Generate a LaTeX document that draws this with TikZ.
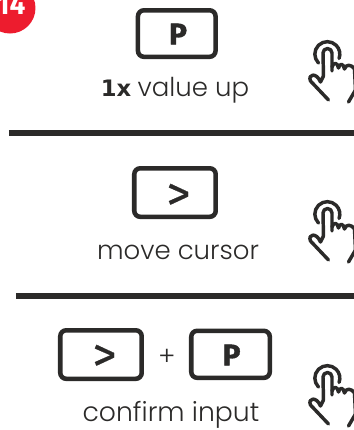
\documentclass[tikz,border=0pt]{standalone}
\usepackage{fontspec}
\setmainfont{Poppins Light}
\newfontfamily\keyfont[FakeBold=1.2]{Fira Sans Bold}
\newfontfamily\arrowfont[FakeBold=0.4]{Fira Sans}
\newfontfamily\badgefont{Fira Sans Bold}
\newfontfamily\onexfont{DejaVu Sans}
\definecolor{ink}{HTML}{2B2A29}
\definecolor{badge}{HTML}{ED1C2E}
\tikzset{
  keybox/.style={draw=ink,line width=3.4pt,rounded corners=4.5pt,anchor=north west,inner sep=0pt},
  keytext/.style={text=ink,font=\keyfont\fontsize{22.5}{23}\selectfont},
  arrowtext/.style={text=ink,font=\arrowfont\fontsize{36}{36}\selectfont},
  caption/.style={text=ink,font=\fontsize{19.5}{22}\selectfont},
  rulebar/.style={draw=ink,line width=5pt},
  handline/.style={draw=ink,line width=2.6pt,line cap=round,line join=round},
  handpic/.pic={
    \draw[handline] (-9,9) arc[start angle=135,end angle=380,radius=12.5];
    \draw[handline] (-4,22) -- (-4.5,-1) arc[start angle=180,end angle=360,radius=4.5] -- (4.5,17);
    \draw[handline] (4.5,13) .. controls (6,8) and (10,8) .. (11,14)
      .. controls (12,9) and (16,9) .. (17,15)
      .. controls (18,10) and (24,10) .. (27,15) -- (28,36) -- (21,48);
    \draw[handline] (-4,22) -- (-7,28) .. controls (-11,18) and (-20,20) .. (-17,27) -- (1,46);
  }
}
\begin{document}
\begin{tikzpicture}[x=0.75pt,y=-0.75pt]
\useasboundingbox (0,0) rectangle (354,430);
\clip (0,0) rectangle (354,430);
\fill[badge] (10,8) circle[radius=25.5];
\node[text=white,font=\badgefont\fontsize{21}{21}\selectfont] (badgeno) at (11,5) {14};

\node[keybox,minimum width=58.2pt,minimum height=34.9pt] (k1) at (135.7,8) {};
\node[keytext] (k1t) at (178,34) {P};
\node[caption] (c1) at (175,90) {{\onexfont\bfseries\fontsize{17}{22}\selectfont 1x}\hspace{-0.5pt} value up};
\draw[rulebar] (9,133) -- (354,133);
\pic at (327.5,54) {handpic};

\node[keybox,minimum width=61.1pt,minimum height=36.4pt] (k2) at (132,166) {};
\node[arrowtext] (k2t) at (178.5,197) {>};
\node[caption] (c2) at (178,252) {move cursor};
\draw[rulebar] (16,296) -- (354,296);
\pic at (327.5,214) {handpic};

\node[keybox,minimum width=61.1pt,minimum height=36.4pt] (k3) at (58,328) {};
\node[arrowtext] (k3t) at (104.5,358) {>};
\node[caption] (plus) at (167,357) {+};
\node[keybox,minimum width=58.9pt,minimum height=35.3pt] (k4) at (189,328.5) {};
\node[keytext] (k4t) at (231.5,355) {P};
\node[caption,font=\fontsize{20}{22}\selectfont] (c3) at (171,415) {confirm input};
\pic at (327.5,378) {handpic};
\end{tikzpicture}
\end{document}
